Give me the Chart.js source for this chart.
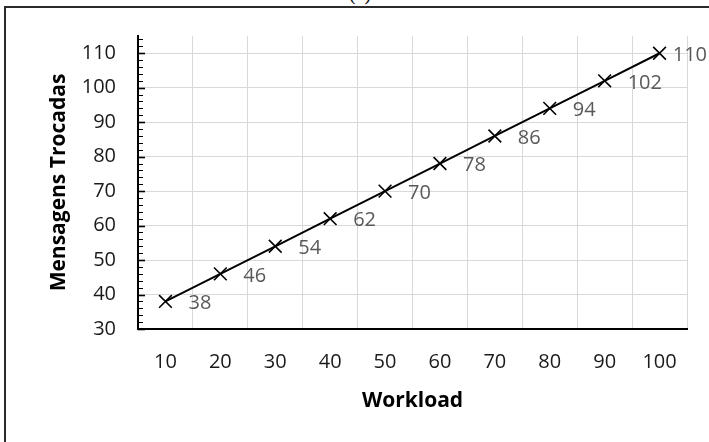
<!DOCTYPE html>
<html>
<head>
<meta charset="utf-8">
<script src="https://cdn.jsdelivr.net/npm/chart.js@4/dist/chart.umd.min.js"></script>
<style>
  html, body { margin: 0; padding: 0; background: #fff; }
  #wrap { position: relative; width: 709px; height: 442px; overflow: hidden; }
  #frame {
    position: absolute; left: 4px; top: 6px; width: 900px; height: 700px;
    border-left: 2px solid #2b2b2b; border-top: 2px solid #2b2b2b;
  }
  #tag {
    position: absolute; left: 330px; width: 60px; top: -17px; text-align: center;
    font-family: "Liberation Serif", serif; font-size: 20px; line-height: 20px; color: #000;
  }
  canvas { position: absolute; left: 0; top: 0; }
</style>
</head>
<body>
<div id="wrap">
  <div id="frame"></div>
  <div id="tag">(c)</div>
  <canvas id="chart" width="709" height="442"></canvas>
</div>
<script>
// Workload levels (x categories) and messages exchanged at each level
const workload = [10, 20, 30, 40, 50, 60, 70, 80, 90, 100];
const messages = [38, 46, 54, 62, 70, 78, 86, 94, 102, 110];

// Value axis range and tick spacing
const Y_MIN = 30;
const Y_MAX = 115;
const Y_STEP = 10;
const Y_MINOR_STEP = 2;

const FONT = '"Open Sans", "DejaVu Sans", sans-serif';

// Small tick marks on the inner side of the value axis (major + minor)
const innerTicks = {
  id: 'innerTicks',
  afterDraw(chart) {
    const y = chart.scales.y;
    const left = chart.chartArea.left;
    const ctx = chart.ctx;
    ctx.save();
    ctx.strokeStyle = '#000';
    for (let v = Y_MIN; v <= Y_MAX + 1e-9; v += Y_MINOR_STEP) {
      const major = Math.abs((v - Y_MIN) % Y_STEP) < 1e-9;
      const py = Math.round(y.getPixelForValue(v)) + 0.5;
      ctx.lineWidth = major ? 1.6 : 1;
      ctx.beginPath();
      ctx.moveTo(left, py);
      ctx.lineTo(left + (major ? 7 : 5), py);
      ctx.stroke();
    }
    ctx.restore();
  }
};

// Value labels placed to the right of each point
const valueLabels = {
  id: 'valueLabels',
  afterDatasetsDraw(chart) {
    const ctx = chart.ctx;
    const meta = chart.getDatasetMeta(0);
    const data = chart.data.datasets[0].data;
    ctx.save();
    ctx.font = '20px ' + FONT;
    ctx.fillStyle = '#595959';
    ctx.textBaseline = 'middle';
    ctx.textAlign = 'left';
    meta.data.forEach((pt, i) => {
      const text = String(data[i]);
      const w = ctx.measureText(text).width;
      const x = Math.min(pt.x + 23, chart.width - 2 - w);
      ctx.fillText(text, x, pt.y + 2);
    });
    ctx.restore();
  }
};

new Chart(document.getElementById('chart'), {
  type: 'line',
  data: {
    labels: workload.map(String),
    datasets: [{
      data: messages,
      borderColor: '#000',
      borderWidth: 2,
      pointStyle: 'crossRot',
      pointRadius: 9,
      pointBorderWidth: 1.6,
      pointBorderColor: '#000',
      pointBackgroundColor: '#000',
      tension: 0,
      fill: false
    }]
  },
  options: {
    responsive: false,
    animation: false,
    events: [],
    layout: { padding: { left: 0, right: 22, top: 36, bottom: 0 } },
    plugins: { legend: { display: false }, tooltip: { enabled: false }, title: { display: false } },
    scales: {
      x: {
        type: 'category',
        offset: true,
        grid: { offset: true, color: '#d9d9d9', lineWidth: 1, drawTicks: false },
        border: { color: '#000', width: 2 },
        ticks: { color: '#1a1a1a', font: { family: FONT, size: 20 }, padding: 21, maxRotation: 0, autoSkip: false },
        title: {
          display: true, text: 'Workload', color: '#000',
          font: { family: FONT, size: 21, weight: 'bold' },
          padding: { top: 0, bottom: 28 }
        },
        afterFit(scale) { scale.height = 113; }
      },
      y: {
        type: 'linear',
        min: Y_MIN,
        max: Y_MAX,
        bounds: 'data',
        grid: { color: '#d9d9d9', lineWidth: 1, drawTicks: false },
        border: { color: '#000', width: 2 },
        ticks: {
          stepSize: Y_STEP, color: '#1a1a1a',
          font: { family: FONT, size: 20 }, padding: 22
        },
        // keep only the labelled steps (30, 40, ... 110); the axis itself runs up to Y_MAX
        afterBuildTicks(scale) {
          scale.ticks = scale.ticks.filter(t => Math.abs((t.value - Y_MIN) % Y_STEP) < 1e-9);
        },
        title: {
          display: true, text: 'Mensagens Trocadas', color: '#000',
          font: { family: FONT, size: 21, weight: 'bold' },
          padding: { top: 46, bottom: 0 }
        },
        afterFit(scale) { scale.width = 138; }
      }
    }
  },
  plugins: [innerTicks, valueLabels]
});
</script>
</body>
</html>
